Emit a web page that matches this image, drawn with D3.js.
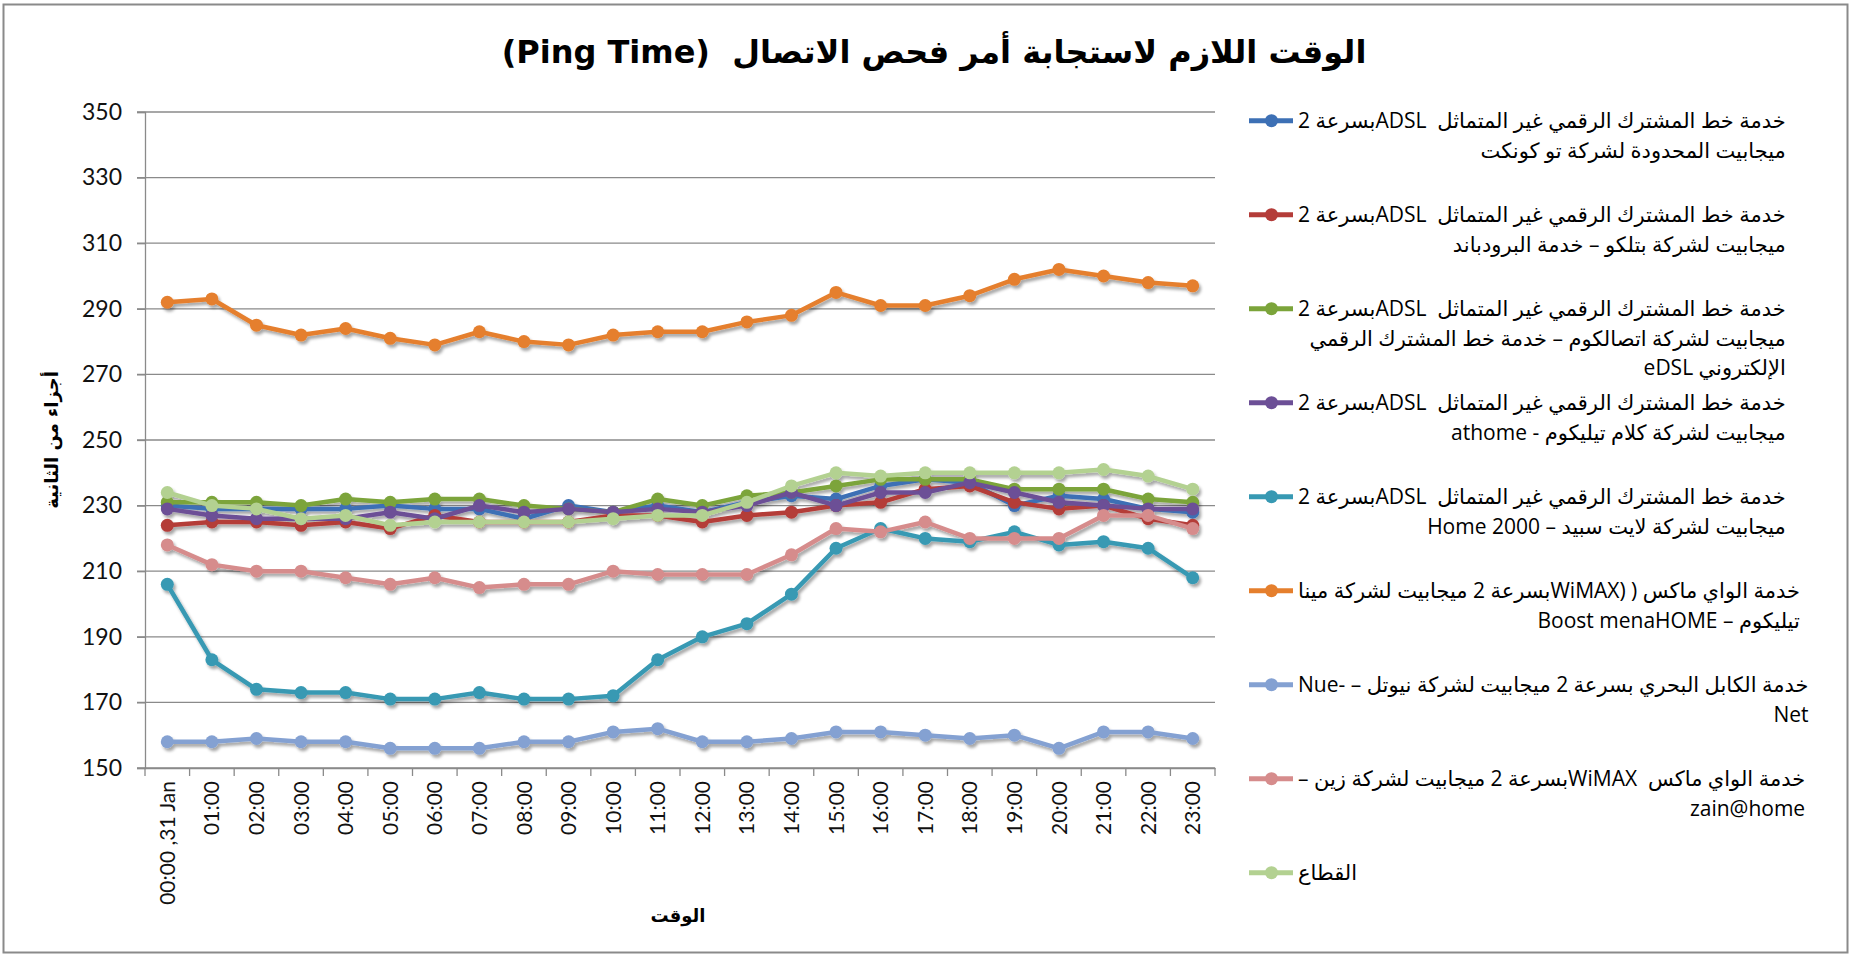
<!DOCTYPE html>
<html><head><meta charset="utf-8">
<script src="https://cdn.jsdelivr.net/npm/d3@7"></script>
<style>
html,body{margin:0;padding:0;background:#fff;}
svg{display:block;}
</style></head>
<body>
<svg id="chart" width="1851" height="957"></svg>
<script>
const categories = ["00:00 ,31 Jan","01:00","02:00","03:00","04:00","05:00","06:00","07:00","08:00","09:00","10:00","11:00","12:00","13:00","14:00","15:00","16:00","17:00","18:00","19:00","20:00","21:00","22:00","23:00"];
const yTicks = [150,170,190,210,230,250,270,290,310,330,350];

const title = "الوقت اللازم لاستجابة أمر فحص الاتصال  (Ping Time)";
const yTitle = "أجزاء من الثانية";
const xTitle = "الوقت";

const s2Connect = [230,229,229,229,229,230,229,229,226,230,228,230,228,231,233,232,236,238,237,230,233,232,229,228];
const sBatelco  = [224,225,225,224,225,223,227,225,225,225,227,227,225,227,228,230,231,235,236,231,229,230,226,224];
const sEtisal   = [231,231,231,230,232,231,232,232,230,229,228,232,230,233,234,236,238,238,238,235,235,235,232,231];
const sKalaam   = [229,227,226,226,226,228,226,230,228,229,228,229,228,230,234,230,234,234,237,234,231,230,229,229];
const sLight    = [206,183,174,173,173,171,171,173,171,171,172,183,190,194,203,217,223,220,219,222,218,219,217,208];
const sMena     = [292,293,285,282,284,281,279,283,280,279,282,283,283,286,288,295,291,291,294,299,302,300,298,297];
const sNuetel   = [158,158,159,158,158,156,156,156,158,158,161,162,158,158,159,161,161,160,159,160,156,161,161,159];
const sZain     = [218,212,210,210,208,206,208,205,206,206,210,209,209,209,215,223,222,225,220,220,220,227,227,223];
const sSector   = [234,230,229,226,227,224,225,225,225,225,226,227,227,231,236,240,239,240,240,240,240,241,239,235];

const seriesNames = [
  ["خدمة خط المشترك الرقمي غير المتماثل  ADSLبسرعة 2","ميجابيت المحدودة لشركة تو كونكت"],
  ["خدمة خط المشترك الرقمي غير المتماثل  ADSLبسرعة 2","ميجابيت لشركة بتلكو – خدمة البرودباند"],
  ["خدمة خط المشترك الرقمي غير المتماثل  ADSLبسرعة 2","ميجابيت لشركة اتصالكوم – خدمة خط المشترك الرقمي","الإلكتروني eDSL"],
  ["خدمة خط المشترك الرقمي غير المتماثل  ADSLبسرعة 2","ميجابيت لشركة كلام تيليكوم - athome"],
  ["خدمة خط المشترك الرقمي غير المتماثل  ADSLبسرعة 2","ميجابيت لشركة لايت سبيد – Home 2000"],
  ["خدمة الواي ماكس ( (WiMAXبسرعة 2 ميجابيت لشركة مينا","تيليكوم – Boost menaHOME"],
  ["خدمة الكابل البحري بسرعة 2 ميجابيت لشركة نيوتل – Nue-\u200E","Net"],
  ["خدمة الواي ماكس  WiMAXبسرعة 2 ميجابيت لشركة زين –","zain@home"],
  ["القطاع"]
];
const seriesValues = [s2Connect,sBatelco,sEtisal,sKalaam,sLight,sMena,sNuetel,sZain,sSector];
const seriesColors = ["#3d70b5","#b43c39","#7ba43a","#6c4f96","#3799b3","#e57f2d","#84a1d2","#d68c8c","#b3d191"];

const svg = d3.select("#chart");
const W = 1851, H = 957;
const plot = {left:145, right:1215, top:112, bottom:768};

const defs = svg.append("defs");
const f = defs.append("filter").attr("id","shadow").attr("x","-10%").attr("y","-10%").attr("width","120%").attr("height","130%");
f.append("feDropShadow").attr("dx",2).attr("dy",3).attr("stdDeviation",1.8).attr("flood-color","#000").attr("flood-opacity",0.35);

svg.append("rect").attr("x",0).attr("y",0).attr("width",W).attr("height",H).attr("fill","#fff");
svg.append("rect").attr("x",3.5).attr("y",4.5).attr("width",W-7).attr("height",H-9)
  .attr("fill","none").attr("stroke","#8a8a8a").attr("stroke-width",2);

const x = d3.scaleBand().domain(categories).range([plot.left, plot.right]);
const y = d3.scaleLinear().domain([150,350]).range([plot.bottom, plot.top]);
const cx = c => x(c) + x.bandwidth()/2;

// gridlines
svg.append("g").selectAll("line").data(yTicks).join("line")
  .attr("x1",plot.left-8).attr("x2",plot.right)
  .attr("y1",d=>y(d)).attr("y2",d=>y(d))
  .attr("stroke","#8a8a8a").attr("stroke-width",1.3);

// y axis
const yAxis = svg.append("g").attr("transform",`translate(${plot.left},0)`)
  .call(d3.axisLeft(y).tickValues(yTicks).tickSize(8).tickPadding(15).tickFormat(d3.format("d")));
yAxis.select(".domain").attr("stroke","#8a8a8a").attr("stroke-width",1.3);
yAxis.selectAll(".tick line").attr("stroke","#8a8a8a").attr("stroke-width",1.3);
yAxis.selectAll("text").attr("font-family","Lato, 'Open Sans', sans-serif").attr("font-size",23).attr("fill","#111");

// x axis
const xAxis = svg.append("g").attr("transform",`translate(0,${plot.bottom})`)
  .call(d3.axisBottom(x).tickSize(0));
xAxis.select(".domain").attr("stroke","#8a8a8a").attr("stroke-width",1.3);
xAxis.selectAll("text")
  .attr("transform","rotate(-90)").attr("x",-13).attr("y",0).attr("dy","0.36em")
  .attr("text-anchor","end")
  .attr("font-family","Lato, 'Open Sans', sans-serif").attr("font-size",21).attr("fill","#111");
const bounds = d3.range(categories.length+1).map(i => plot.left + i*x.step());
xAxis.append("g").selectAll("line").data(bounds).join("line")
  .attr("x1",d=>d).attr("x2",d=>d).attr("y1",0).attr("y2",8)
  .attr("stroke","#8a8a8a").attr("stroke-width",1.3);

// series
const line = d3.line().x((d,i)=>cx(categories[i])).y(d=>y(d));
const gS = svg.append("g").attr("filter","url(#shadow)");
seriesValues.forEach((vals,si)=>{
  const g = gS.append("g");
  g.append("path").datum(vals).attr("d",line).attr("fill","none")
    .attr("stroke",seriesColors[si]).attr("stroke-width",4.5).attr("stroke-linejoin","round");
  g.selectAll("circle").data(vals).join("circle")
    .attr("cx",(d,i)=>cx(categories[i])).attr("cy",d=>y(d)).attr("r",6.5)
    .attr("fill",seriesColors[si]);
});

// title
svg.append("text").attr("x",934).attr("y",63).attr("text-anchor","middle")
  .style("direction","rtl").style("white-space","pre")
  .attr("font-family","'DejaVu Sans', sans-serif").attr("font-weight","bold").attr("font-size",32)
  .attr("fill","#000").text(title);

// axis titles
svg.append("text").attr("transform","translate(52,440) rotate(-90)").attr("text-anchor","middle")
  .style("direction","rtl").attr("font-family","'DejaVu Sans', sans-serif").attr("font-weight","bold")
  .attr("font-size",18).attr("fill","#000").attr("dy","0.35em").text(yTitle);
svg.append("text").attr("x",678).attr("y",916).attr("text-anchor","middle")
  .style("direction","rtl").attr("font-family","'DejaVu Sans', sans-serif").attr("font-weight","bold")
  .attr("font-size",18).attr("fill","#000").attr("dy","0.35em").text(xTitle);

// legend
const legX0 = 1298, legY0 = 120.7, legStep = 94, legLine = 29.5;
seriesNames.forEach((lines,si)=>{
  const yy = legY0 + si*legStep;
  const g = svg.append("g");
  g.append("line").attr("x1",1249).attr("x2",1293).attr("y1",yy).attr("y2",yy)
    .attr("stroke",seriesColors[si]).attr("stroke-width",5);
  g.append("circle").attr("cx",1271.5).attr("cy",yy).attr("r",6.5).attr("fill",seriesColors[si]);
  const texts = lines.map((ln,k)=> g.append("text").attr("x",0).attr("y",yy+k*legLine).attr("dy","0.35em")
      .style("direction","rtl").style("white-space","pre").attr("font-family","'Open Sans', 'DejaVu Sans', sans-serif")
      .attr("font-size",21).attr("fill","#000").text(ln));
  const boxes = texts.map(tn=>tn.node().getBBox());
  const maxW = d3.max(boxes,b=>b.width);
  const right = legX0 + maxW;
  texts.forEach((tn,k)=>{
    const b = boxes[k];
    tn.attr("transform",`translate(${right-(b.x+b.width)},0)`);
  });
});
</script>
</body></html>
